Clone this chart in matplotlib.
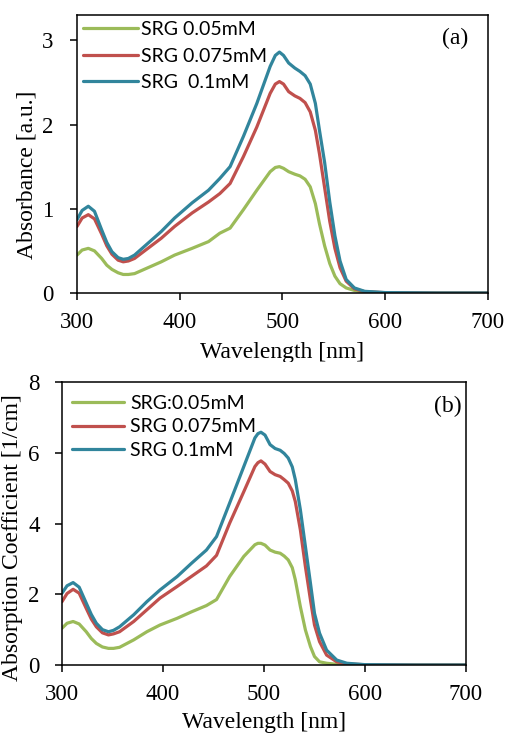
import matplotlib
matplotlib.use("Agg")
import matplotlib.pyplot as plt
from matplotlib.patches import Rectangle

# ---------------- data ----------------
wl_a = [300, 305, 311, 317, 324, 329, 334, 340, 345, 350, 356, 369, 382, 395, 412, 428, 439, 449,
        462, 475, 488, 493, 497, 501, 506, 512, 517, 522, 527, 532, 536, 541, 546, 551, 556, 562,
        570, 580, 600, 650, 700]
abs_005 = [0.45, 0.51, 0.53, 0.50, 0.41, 0.33, 0.28, 0.24, 0.22, 0.22, 0.23, 0.30, 0.37, 0.45, 0.53,
           0.61, 0.71, 0.77, 0.99, 1.22, 1.44, 1.49, 1.50, 1.48, 1.44, 1.41, 1.39, 1.35, 1.26, 1.06,
           0.82, 0.56, 0.35, 0.20, 0.11, 0.06, 0.03, 0.01, 0.003, 0.0, 0.0]
abs_0075 = [0.79, 0.89, 0.93, 0.88, 0.70, 0.56, 0.46, 0.39, 0.37, 0.38, 0.41, 0.53, 0.65, 0.79, 0.95,
            1.08, 1.18, 1.30, 1.62, 1.97, 2.37, 2.48, 2.51, 2.48, 2.39, 2.34, 2.31, 2.26, 2.15, 1.93,
            1.65, 1.25, 0.85, 0.53, 0.30, 0.14, 0.05, 0.015, 0.004, 0.0, 0.0]
abs_01 = [0.87, 0.98, 1.03, 0.97, 0.75, 0.60, 0.49, 0.42, 0.40, 0.41, 0.45, 0.59, 0.73, 0.89, 1.07,
          1.22, 1.36, 1.50, 1.86, 2.25, 2.69, 2.82, 2.86, 2.82, 2.73, 2.67, 2.63, 2.58, 2.48, 2.25,
          1.93, 1.55, 1.08, 0.68, 0.38, 0.16, 0.06, 0.02, 0.005, 0.0, 0.0]

wl_b = [300, 305, 311, 317, 324, 329, 334, 340, 346, 351, 357, 371, 384, 397, 414, 428, 443, 453,
        466, 480, 491, 494, 497, 501, 506, 511, 516, 520, 524, 528, 531, 536, 541, 546, 550, 555,
        562, 572, 582, 600, 650, 700]
coef_005 = [1.04, 1.18, 1.23, 1.16, 0.94, 0.75, 0.61, 0.51, 0.47, 0.47, 0.50, 0.71, 0.94, 1.13, 1.32,
            1.50, 1.68, 1.85, 2.50, 3.07, 3.40, 3.44, 3.44, 3.39, 3.25, 3.19, 3.16, 3.08, 2.97, 2.75,
            2.41, 1.65, 0.99, 0.52, 0.24, 0.09, 0.05, 0.02, 0.01, 0.003, 0.0, 0.0]
coef_0075 = [1.79, 2.02, 2.14, 2.03, 1.60, 1.30, 1.08, 0.91, 0.85, 0.88, 0.94, 1.23, 1.56, 1.89, 2.22,
             2.50, 2.80, 3.10, 4.01, 4.90, 5.61, 5.72, 5.77, 5.68, 5.47, 5.38, 5.33, 5.24, 5.14, 4.92,
             4.62, 3.82, 2.78, 1.84, 1.13, 0.66, 0.28, 0.09, 0.03, 0.008, 0.0, 0.0]
coef_01 = [2.03, 2.24, 2.33, 2.20, 1.75, 1.43, 1.18, 1.00, 0.94, 0.98, 1.08, 1.42, 1.79, 2.12, 2.50,
           2.87, 3.25, 3.63, 4.58, 5.61, 6.42, 6.54, 6.58, 6.50, 6.23, 6.12, 6.07, 5.98, 5.85, 5.60,
           5.24, 4.39, 3.35, 2.31, 1.46, 0.90, 0.42, 0.14, 0.05, 0.01, 0.0, 0.0]

labels_a = ["SRG 0.05mM", "SRG 0.075mM", "SRG  0.1mM"]
labels_b = ["SRG:0.05mM", "SRG 0.075mM", "SRG 0.1mM"]
xticks = [300, 400, 500, 600, 700]
yticks_a = [0, 1, 2, 3]
yticks_b = [0, 2, 4, 6, 8]

colors = ["#9BBB59", "#C0504D", "#31859C"]

# ---------------- figure ----------------
W, H = 506, 734
fig = plt.figure(figsize=(W / 100, H / 100), dpi=100)
serif = "Liberation Serif"
sans = "Lato"
TICK_FS = 16.5
LABEL_FS = 17


def fx(px):
    return px / W


def fy(py):
    return (H - py) / H


def style_axes(ax, yticks, ylim, ypad):
    ax.set_xlim(300, 700)
    ax.set_ylim(*ylim)
    ax.set_xticks(xticks)
    ax.set_yticks(yticks)
    ax.set_xticklabels([str(v) for v in xticks], fontfamily=serif, fontsize=TICK_FS)
    ax.set_yticklabels([str(v) for v in yticks], fontfamily=serif, fontsize=TICK_FS)
    ax.tick_params(axis="x", direction="out", length=5, width=1.1, pad=9)
    ax.tick_params(axis="y", direction="out", length=5, width=1.1, pad=ypad)
    for s in ax.spines.values():
        s.set_linewidth(1.1)
        s.set_color("black")


# ---- panel (a)
ax1 = fig.add_axes([fx(77), fy(293), fx(488 - 77), (293 - 15) / H])
for y, c, lab in zip([abs_005, abs_0075, abs_01], colors, labels_a):
    ax1.plot(wl_a, y, color=c, lw=2.3, label=lab, solid_joinstyle="round", solid_capstyle="round")
style_axes(ax1, yticks_a, (0, 3.3), 12)
leg1 = ax1.legend(loc="upper left", bbox_to_anchor=(0.0, 1.0), frameon=False,
                  prop={"family": sans, "size": 14}, handlelength=2.85, handletextpad=0.15,
                  labelspacing=0.5, borderaxespad=0.0, borderpad=0.3)
ax1.text(0.953, 0.895, "(a)", transform=ax1.transAxes, ha="right", va="baseline",
         fontfamily=serif, fontsize=17)

# ---- panel (b)
ax2 = fig.add_axes([fx(62), fy(665), fx(466 - 62), (665 - 382) / H])
for y, c, lab in zip([coef_005, coef_0075, coef_01], colors, labels_b):
    ax2.plot(wl_b, y, color=c, lw=2.3, label=lab, solid_joinstyle="round", solid_capstyle="round")
style_axes(ax2, yticks_b, (0, 8), 11)
leg2 = ax2.legend(loc="upper left", bbox_to_anchor=(0.005, 0.982), frameon=False,
                  prop={"family": sans, "size": 14}, handlelength=2.7, handletextpad=0.3,
                  labelspacing=0.34, borderaxespad=0.0, borderpad=0.4)
ax2.text(0.99, 0.895, "(b)", transform=ax2.transAxes, ha="right", va="baseline",
         fontfamily=serif, fontsize=17)

# ---- axis titles
fig.text(fx(282.5), fy(358), "Wavelength [nm]", ha="center", va="baseline",
         fontfamily=serif, fontsize=LABEL_FS)
fig.text(fx(264), fy(728), "Wavelength [nm]", ha="center", va="baseline",
         fontfamily=serif, fontsize=LABEL_FS)
fig.text(fx(33), fy(175), "Absorbance [a.u.]", rotation=90, rotation_mode="anchor",
         ha="center", va="baseline", fontfamily=serif, fontsize=LABEL_FS)
fig.text(fx(18), fy(538), "Absorption Coefficient [1/cm]", rotation=90, rotation_mode="anchor",
         ha="center", va="baseline", fontfamily=serif, fontsize=LABEL_FS)

# white band that clips the upper x-axis title, as in the source image
fig.patches.append(Rectangle((0, fy(372)), 1, 10 / H, transform=fig.transFigure,
                             facecolor="white", edgecolor="none", zorder=10))

fig.savefig("out.png", dpi=100, facecolor="white")
